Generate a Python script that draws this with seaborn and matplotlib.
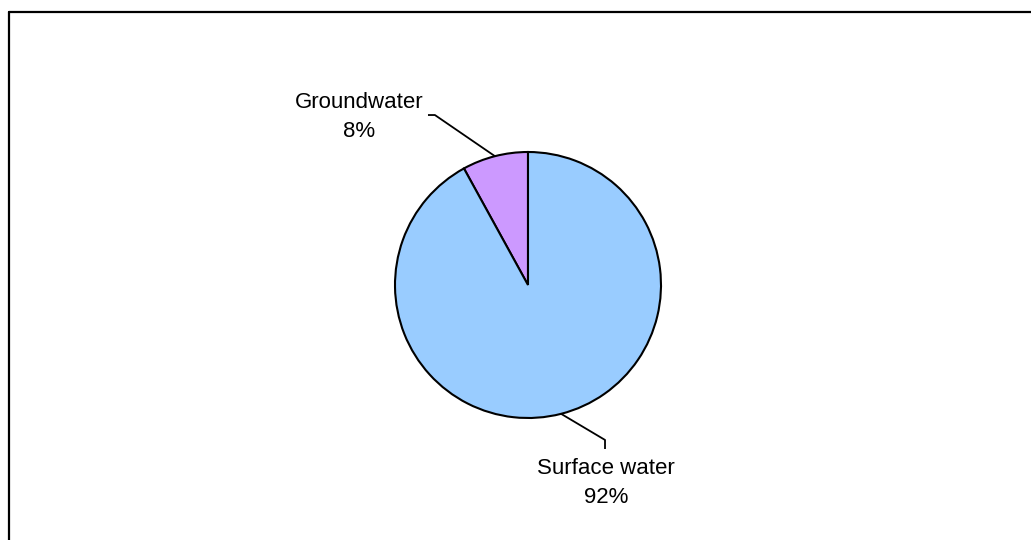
import numpy as np
import matplotlib
matplotlib.use("Agg")
import matplotlib.pyplot as plt
from matplotlib.lines import Line2D
import seaborn as sns

# ---------- DATA ----------
labels = ["Groundwater", "Surface water"]
shares = [8, 92]
colors = ["#CC99FF", "#99CCFF"]
# ---------------------------

sns.set_theme(style="white")
plt.rcParams["font.family"] = ["Liberation Sans", "DejaVu Sans"]

W, H = 1031, 540
fig = plt.figure(figsize=(W / 100, H / 100), dpi=100)
fig.patch.set_facecolor("white")

# pie axes: centre (528, 285) px, radius 133 px
cx, cy, r = 528, 285, 133
ax = fig.add_axes([(cx - r) / W, (H - cy - r) / H, 2 * r / W, 2 * r / H])
wedges, _ = ax.pie(shares, colors=colors, startangle=90, counterclock=True,
                   radius=1.0,
                   wedgeprops=dict(edgecolor="black", linewidth=1.5))
ax.set_xlim(-1, 1)
ax.set_ylim(-1, 1)
ax.set_aspect("equal")
ax.axis("off")

# label placement (in pie-radius units) relative to each wedge
label_pos = [(-1.27, 1.26), (0.586, -1.485)]
elbows = [[(-0.70, 1.278), (-0.752, 1.278)],
          [(0.579, -1.165), (0.579, -1.233)]]

for w, lab, val, (tx, ty), elb in zip(wedges, labels, shares, label_pos, elbows):
    mid = np.deg2rad((w.theta1 + w.theta2) / 2)
    ex, ey = np.cos(mid), np.sin(mid)
    xs = [ex] + [p[0] for p in elb]
    ys = [ey] + [p[1] for p in elb]
    ax.plot(xs, ys, color="black", lw=1.3, clip_on=False,
            solid_capstyle="butt")
    ax.text(tx, ty, f"{lab}\n{val}%", ha="center", va="center",
            fontsize=16, color="black", clip_on=False, linespacing=1.5)

# chart area frame (left and top edges visible)
x0, y0 = 9 / W, 1 - 12 / H
fig.add_artist(Line2D([x0, x0], [0, y0], transform=fig.transFigure,
                      color="black", lw=1.6))
fig.add_artist(Line2D([x0, 1], [y0, y0], transform=fig.transFigure,
                      color="black", lw=1.6))

fig.savefig("out.png", dpi=100)
